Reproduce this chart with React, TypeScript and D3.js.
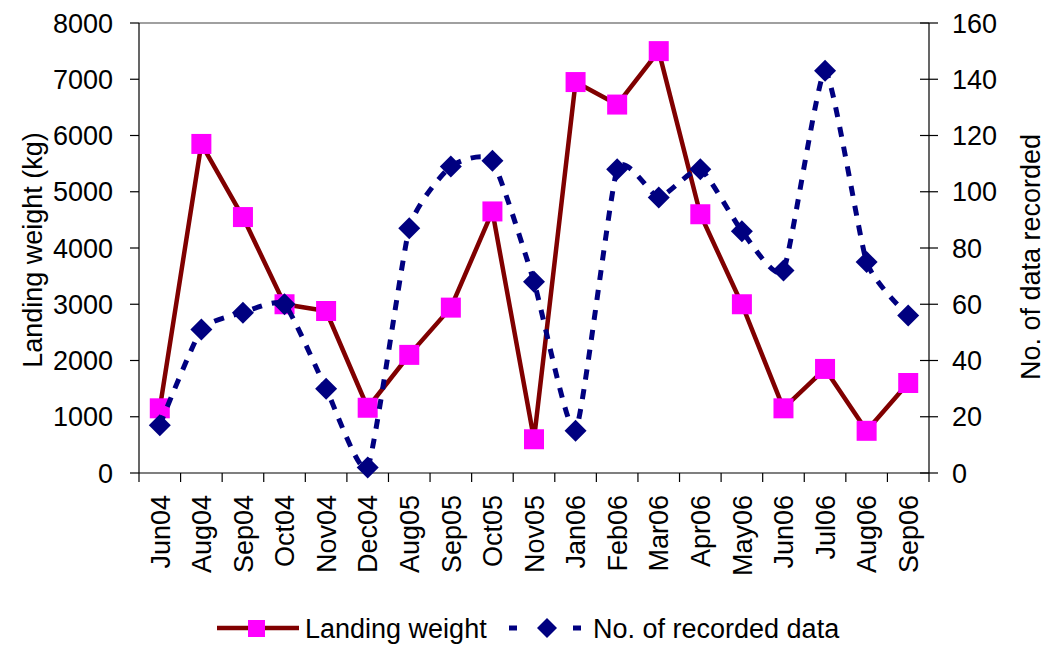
import React from "react";
import * as d3 from "d3";

const categories = ["Jun04","Aug04","Sep04","Oct04","Nov04","Dec04","Aug05","Sep05","Oct05","Nov05","Jan06","Feb06","Mar06","Apr06","May06","Jun06","Jul06","Aug06","Sep06"];
const landingWeight = [1150,5850,4550,3000,2880,1160,2100,2940,4650,600,6950,6550,7500,4600,3000,1150,1850,750,1600];
const recordedData = [17,51,57,60,30,2,87,109,111,68,15,108,98,108,86,72,143,75,56];
const leftTicks = [0,1000,2000,3000,4000,5000,6000,7000,8000];
const rightTicks = [0,20,40,60,80,100,120,140,160];

const W = 1046, H = 647;
const L = 139, R = 929, T = 23, B = 473;
const FONT = "'Liberation Sans', Arial, sans-serif";
const FS = 27;

export default function App() {
  const x = d3.scaleBand<string>().domain(categories).range([L, R]).padding(0);
  const cx = (c: string) => (x(c) as number) + x.bandwidth() / 2;
  const yL = d3.scaleLinear().domain([0, 8000]).range([B, T]);
  const yR = d3.scaleLinear().domain([0, 160]).range([B, T]);

  const lwLine = d3.line<number>().x((_, i) => cx(categories[i])).y(d => yL(d))(landingWeight) as string;
  const rdLine = d3.line<number>().x((_, i) => cx(categories[i])).y(d => yR(d)).curve(d3.curveCardinal.tension(0.5))(recordedData) as string;

  const boundaries = d3.range(categories.length + 1).map(i => L + i * x.bandwidth());

  return (
    <svg width={W} height={H} style={{ position: "absolute", left: 0, top: 0, background: "#fff" }} fontFamily={FONT}>
      <line x1={L} x2={R} y1={T} y2={T} stroke="#808080" strokeWidth={1.5} />
      <line x1={L} x2={L} y1={T} y2={B} stroke="#000" strokeWidth={1.2} />
      {leftTicks.map(t => (
        <g key={"l" + t}>
          <line x1={L - 9} x2={L} y1={yL(t)} y2={yL(t)} stroke="#000" strokeWidth={1.2} />
          <text x={113} y={yL(t)} dy="0.36em" textAnchor="end" fontSize={FS}>{t}</text>
        </g>
      ))}
      <line x1={R} x2={R} y1={T} y2={B} stroke="#000" strokeWidth={1.2} />
      {rightTicks.map(t => (
        <g key={"r" + t}>
          <line x1={R - 9} x2={R + 9} y1={yR(t)} y2={yR(t)} stroke="#000" strokeWidth={1.2} />
          <text x={952} y={yR(t)} dy="0.36em" textAnchor="start" fontSize={FS}>{t}</text>
        </g>
      ))}
      <line x1={L} x2={R} y1={B} y2={B} stroke="#000" strokeWidth={1.2} />
      {boundaries.map((b, i) => (
        <line key={"b" + i} x1={b} x2={b} y1={B} y2={B + 9} stroke="#000" strokeWidth={1.2} />
      ))}
      {categories.map(c => (
        <text key={"c" + c} transform={`translate(${cx(c)},${495}) rotate(-90)`} dy="0.36em" textAnchor="end" fontSize={FS}>{c}</text>
      ))}
      <text transform={`translate(32,250) rotate(-90)`} dy="0.36em" textAnchor="middle" fontSize={FS}>Landing weight (kg)</text>
      <text transform={`translate(1030,257) rotate(-90)`} dy="0.36em" textAnchor="middle" fontSize={FS}>No. of data recorded</text>

      <path d={lwLine} fill="none" stroke="#800000" strokeWidth={4.5} strokeLinejoin="round" />
      {landingWeight.map((v, i) => (
        <rect key={"s" + i} x={cx(categories[i]) - 10} y={yL(v) - 10} width={20} height={20} fill="#FF00FF" />
      ))}
      <path d={rdLine} fill="none" stroke="#000080" strokeWidth={5} strokeDasharray="10,10" />
      {recordedData.map((v, i) => {
        const px = cx(categories[i]), py = yR(v), r = 11;
        return <path key={"d" + i} d={`M${px},${py - r}L${px + r},${py}L${px},${py + r}L${px - r},${py}Z`} fill="#000080" />;
      })}

      <line x1={217} x2={299} y1={628} y2={628} stroke="#800000" strokeWidth={4.5} />
      <rect x={248} y={620} width={17} height={17} fill="#FF00FF" />
      <text x={305} y={628} dy="0.36em" fontSize={FS}>Landing weight</text>
      <line x1={509} x2={517} y1={628} y2={628} stroke="#000080" strokeWidth={5} />
      <path d="M547,618L557,628L547,638L537,628Z" fill="#000080" />
      <line x1={573} x2={581} y1={628} y2={628} stroke="#000080" strokeWidth={5} />
      <text x={593} y={628} dy="0.36em" fontSize={FS}>No. of recorded data</text>
    </svg>
  );
}
